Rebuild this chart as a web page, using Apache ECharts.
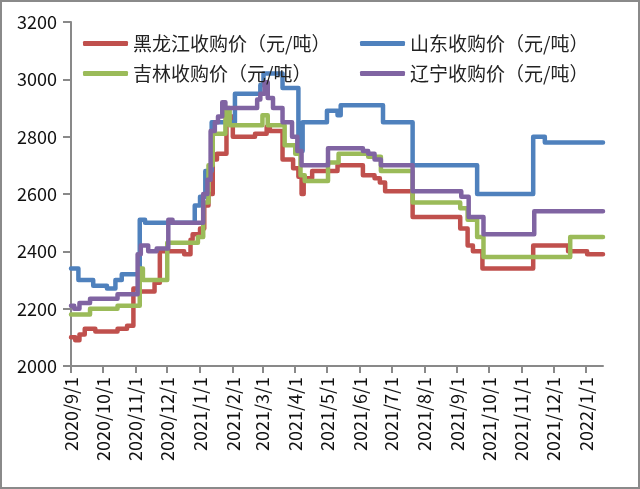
<!DOCTYPE html>
<html><head><meta charset="utf-8">
<script src="https://cdn.jsdelivr.net/npm/echarts@6/dist/echarts.min.js"></script>
<style>html,body{margin:0;padding:0;background:#fff}#c{width:640px;height:489px}</style>
</head><body><div id="c"></div>
<script>
const names = ['黑龙江收购价（元/吨）','山东收购价（元/吨）','吉林收购价（元/吨）','辽宁收购价（元/吨）'];
const colors = ['#C0504D','#4F81BD','#9BBB59','#8064A2'];
const startDate = '2020-09-01';
const endDate = '2022-01-17';
const yMin = 2000, yMax = 3200, yStep = 200;

// step change points: [date value starts, value]
const heilongjiang = [
['2020-09-01',2100],['2020-09-05',2090],['2020-09-09',2110],['2020-09-14',2130],['2020-09-24',2120],['2020-10-15',2130],['2020-10-24',2140],['2020-10-30',2270],['2020-11-05',2260],['2020-11-19',2290],['2020-11-24',2400],['2020-12-17',2390],['2020-12-23',2440],['2020-12-25',2460],['2021-01-01',2480],['2021-01-05',2560],['2021-01-09',2600],['2021-01-13',2720],['2021-01-17',2740],['2021-01-26',2870],['2021-02-01',2800],['2021-02-22',2810],['2021-03-05',2835],['2021-03-08',2820],['2021-03-20',2720],['2021-03-30',2690],['2021-04-04',2660],['2021-04-07',2600],['2021-04-09',2655],['2021-04-17',2680],['2021-05-11',2700],['2021-06-04',2665],['2021-06-15',2655],['2021-06-20',2640],['2021-06-25',2610],['2021-07-21',2520],['2021-09-04',2480],['2021-09-11',2420],['2021-09-16',2400],['2021-09-25',2340],['2021-11-12',2420],['2021-12-15',2400],['2022-01-02',2390],['2022-01-17',2390]
];
const shandong = [
['2020-09-01',2340],['2020-09-08',2300],['2020-09-22',2280],['2020-10-05',2270],['2020-10-13',2300],['2020-10-19',2320],['2020-11-05',2510],['2020-11-10',2500],['2020-12-27',2560],['2021-01-01',2590],['2021-01-06',2680],['2021-01-12',2850],['2021-02-03',2950],['2021-02-27',2980],['2021-03-02',3020],['2021-03-20',2970],['2021-04-04',2750],['2021-04-08',2850],['2021-05-01',2890],['2021-05-11',2875],['2021-05-14',2910],['2021-06-23',2850],['2021-07-21',2700],['2021-09-20',2600],['2021-11-12',2800],['2021-11-23',2780],['2022-01-17',2780]
];
const jilin = [
['2020-09-01',2180],['2020-09-19',2200],['2020-10-15',2210],['2020-11-05',2340],['2020-11-08',2300],['2020-12-01',2430],['2020-12-30',2450],['2021-01-04',2570],['2021-01-09',2700],['2021-01-13',2810],['2021-01-25',2900],['2021-01-29',2840],['2021-03-01',2875],['2021-03-06',2840],['2021-03-22',2770],['2021-04-01',2740],['2021-04-06',2665],['2021-04-10',2645],['2021-05-02',2710],['2021-05-12',2740],['2021-06-09',2730],['2021-06-21',2680],['2021-07-21',2570],['2021-09-04',2550],['2021-09-11',2510],['2021-09-20',2450],['2021-09-26',2380],['2021-12-17',2450],['2022-01-17',2450]
];
const liaoning = [
['2020-09-01',2210],['2020-09-04',2200],['2020-09-09',2220],['2020-09-19',2235],['2020-10-15',2250],['2020-11-03',2390],['2020-11-06',2420],['2020-11-13',2400],['2020-11-21',2410],['2020-12-02',2510],['2020-12-06',2500],['2021-01-04',2600],['2021-01-08',2650],['2021-01-11',2820],['2021-01-15',2850],['2021-01-18',2870],['2021-01-22',2920],['2021-01-25',2900],['2021-02-24',2930],['2021-02-27',2950],['2021-03-03',2990],['2021-03-06',2935],['2021-03-11',2900],['2021-03-20',2850],['2021-03-29',2800],['2021-04-03',2750],['2021-04-07',2700],['2021-05-02',2760],['2021-06-04',2750],['2021-06-09',2740],['2021-06-15',2720],['2021-06-21',2700],['2021-07-21',2610],['2021-09-05',2590],['2021-09-12',2520],['2021-09-26',2460],['2021-11-13',2540],['2022-01-17',2540]
];

const seriesData = [heilongjiang, shandong, jilin, liaoning];
const font = '"Noto Sans CJK SC", "Noto Sans", sans-serif';
const axisColor = '#898989';

const chart = echarts.init(document.getElementById('c'), null, {renderer: 'canvas'});
const legendCommon = {
  orient: 'vertical', padding: 0, itemGap: 11, itemWidth: 45, itemHeight: 5,
  icon: 'roundRect',
  textStyle: {fontFamily: font, fontSize: 19, color: '#222'},
  selectedMode: false
};
chart.setOption({
  backgroundColor: '#fff',
  animation: false,
  graphic: [{type: 'rect', shape: {x: 1, y: 1, width: 638, height: 487}, style: {fill: 'none', stroke: '#8a8a8a', lineWidth: 2}, z: 100}],
  legend: [
    Object.assign({}, legendCommon, {left: 83, top: 34, data: [names[0], names[2]]}),
    Object.assign({}, legendCommon, {left: 360, top: 34, data: [names[1], names[3]]})
  ],
  grid: {left: 71, right: 37, top: 22, bottom: 123, containLabel: false},
  xAxis: {
    type: 'time', min: startDate, max: endDate,
    splitNumber: 16, minInterval: 28 * 864e5, maxInterval: 31 * 864e5,
    axisLine: {show: true, lineStyle: {color: axisColor, width: 2}},
    axisTick: {show: true, length: 7, lineStyle: {color: axisColor, width: 2}},
    splitLine: {show: false},
    axisLabel: {rotate: 90, margin: 11, fontFamily: font, fontSize: 18, color: '#111', formatter: '{yyyy}/{M}/{d}', hideOverlap: false}
  },
  yAxis: {
    type: 'value', min: yMin, max: yMax, interval: yStep,
    axisLine: {show: true, lineStyle: {color: axisColor, width: 2}},
    axisTick: {show: true, length: 8, lineStyle: {color: axisColor, width: 2}},
    splitLine: {show: false},
    axisLabel: {margin: 14, fontFamily: font, fontSize: 18, color: '#111', formatter: v => String(v)}
  },
  series: seriesData.map((d, i) => ({
    name: names[i], type: 'line', step: 'end', data: d, symbol: 'none',
    color: colors[i], lineStyle: {width: 4.5, color: colors[i], cap: 'round', join: 'round'}
  }))
});
</script></body></html>
